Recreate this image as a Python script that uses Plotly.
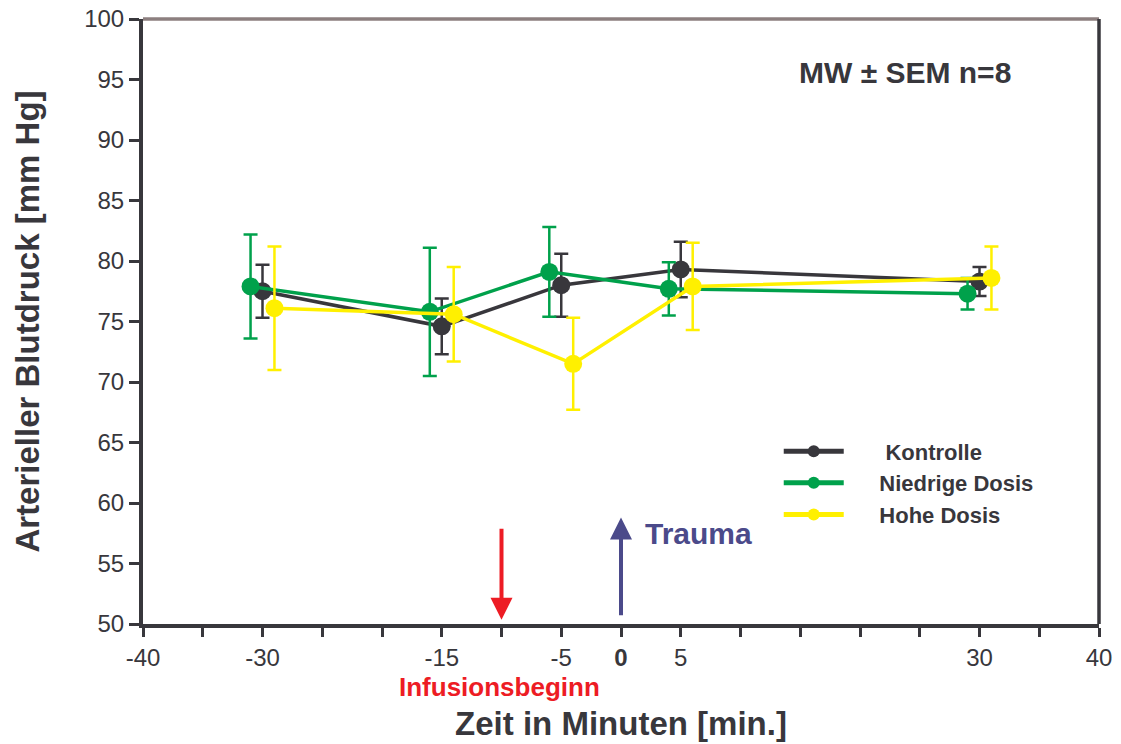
import plotly.graph_objects as go

# Time points (minutes) for each group, slightly staggered for readability
zeit_kontrolle = [-30, -15, -5, 5, 30]
zeit_niedrig = [-31, -16, -6, 4, 29]
zeit_hoch = [-29, -14, -4, 6, 31]

# Mean arterial pressure (mm Hg) and SEM
mw_kontrolle = [77.5, 74.6, 78.0, 79.3, 78.3]
sem_kontrolle = [2.2, 2.3, 2.6, 2.3, 1.2]

mw_niedrig = [77.9, 75.8, 79.1, 77.7, 77.3]
sem_niedrig = [4.3, 5.3, 3.7, 2.2, 1.3]

mw_hoch = [76.1, 75.6, 71.5, 77.9, 78.6]
sem_hoch = [5.1, 3.9, 3.8, 3.6, 2.6]

# Axis ticks
x_ticks = [-40, -35, -30, -25, -20, -15, -10, -5, 0, 5, 10, 15, 20, 25, 30, 35, 40]
x_labels = ["-40", "", "-30", "", "", "-15", "", "-5", "<b>0</b>", "5", "", "", "", "", "30", "", "40"]
y_ticks = [50, 55, 60, 65, 70, 75, 80, 85, 90, 95, 100]

DUNKEL = "#38373c"
GRUEN = "#00a14b"
GELB = "#fff000"
ROT = "#ed1c24"
BLAU = "#4b4a8a"
FONT = "Liberation Sans, Arial, sans-serif"
NB = "\u00a0"

fig = go.Figure()

serien = [
    (NB * 6 + "Kontrolle", zeit_kontrolle, mw_kontrolle, sem_kontrolle, DUNKEL),
    (NB * 5 + "Niedrige Dosis", zeit_niedrig, mw_niedrig, sem_niedrig, GRUEN),
    (NB * 5 + "Hohe Dosis", zeit_hoch, mw_hoch, sem_hoch, GELB),
]
for name, x, y, err, farbe in serien:
    fig.add_trace(go.Scatter(
        x=x, y=y, name=name, mode="lines+markers",
        line=dict(color=farbe, width=3.5),
        marker=dict(color=farbe, size=18),
        error_y=dict(type="data", array=err, visible=True,
                     color=farbe, thickness=2.5, width=7),
    ))

fig.update_layout(
    width=1121, height=744,
    margin=dict(l=143, r=22, t=19, b=120),
    paper_bgcolor="white", plot_bgcolor="white",
    font=dict(family=FONT, color=DUNKEL, size=24),
    showlegend=True,
    legend=dict(
        x=0.665, y=0.32, xanchor="left", yanchor="top",
        bgcolor="rgba(0,0,0,0)", itemwidth=60, tracegroupgap=0,
        font=dict(family=FONT, size=22, color=DUNKEL, weight="bold"),
        itemsizing="constant",
    ),
    xaxis=dict(
        range=[-40, 40], tickmode="array", tickvals=x_ticks, ticktext=x_labels,
        ticks="outside", ticklen=9, tickwidth=2.5, tickcolor=DUNKEL,
        showline=True, linecolor=DUNKEL, linewidth=4,
        showgrid=False, zeroline=False, automargin=False,
        tickfont=dict(size=24, color=DUNKEL),
        title=dict(text="<b>Zeit in Minuten [min.]</b>", standoff=43,
                   font=dict(size=33, color=DUNKEL)),
    ),
    yaxis=dict(
        range=[50, 100], tickmode="array", tickvals=y_ticks,
        ticks="outside", ticklen=10, tickwidth=2.5, tickcolor=DUNKEL,
        showline=True, linecolor=DUNKEL, linewidth=4,
        showgrid=False, zeroline=False, automargin=False,
        tickfont=dict(size=24, color=DUNKEL),
        title=dict(text="<b>Arterieller Blutdruck [mm Hg]</b>", standoff=36,
                   font=dict(size=33, color=DUNKEL)),
    ),
)

# Top and right frame lines
fig.add_shape(type="line", xref="paper", yref="paper", x0=0, x1=1, y0=1, y1=1,
              line=dict(color="#8c7f7f", width=3.5))
fig.add_shape(type="line", xref="paper", yref="paper", x0=1, x1=1, y0=0, y1=1,
              line=dict(color=DUNKEL, width=3.5))

# Infusion start arrow (down) and trauma arrow (up)
fig.add_annotation(x=-10, y=50.35, ax=-10, ay=58.0, xref="x", yref="y",
                   axref="x", ayref="y", text="", showarrow=True,
                   arrowhead=2, arrowsize=1.1, arrowwidth=4, arrowcolor=ROT)
fig.add_annotation(x=0, y=58.8, ax=0, ay=50.6, xref="x", yref="y",
                   axref="x", ayref="y", text="", showarrow=True,
                   arrowhead=2, arrowsize=1.1, arrowwidth=4, arrowcolor=BLAU)

fig.add_annotation(x=1.8, y=57.5, xref="x", yref="y", text="<b>Trauma</b>",
                   showarrow=False, xanchor="left", yanchor="middle",
                   font=dict(family=FONT, size=30, color=BLAU))
fig.add_annotation(x=-10.2, y=50, xref="x", yref="y", yshift=-63,
                   text="<b>Infusionsbeginn</b>", showarrow=False,
                   xanchor="center", yanchor="middle",
                   font=dict(family=FONT, size=26, color=ROT))
fig.add_annotation(x=23.8, y=95.6, xref="x", yref="y", text="<b>MW ± SEM n=8</b>",
                   showarrow=False, xanchor="center", yanchor="middle",
                   font=dict(family=FONT, size=30, color=DUNKEL))

fig.write_html("out.html")
